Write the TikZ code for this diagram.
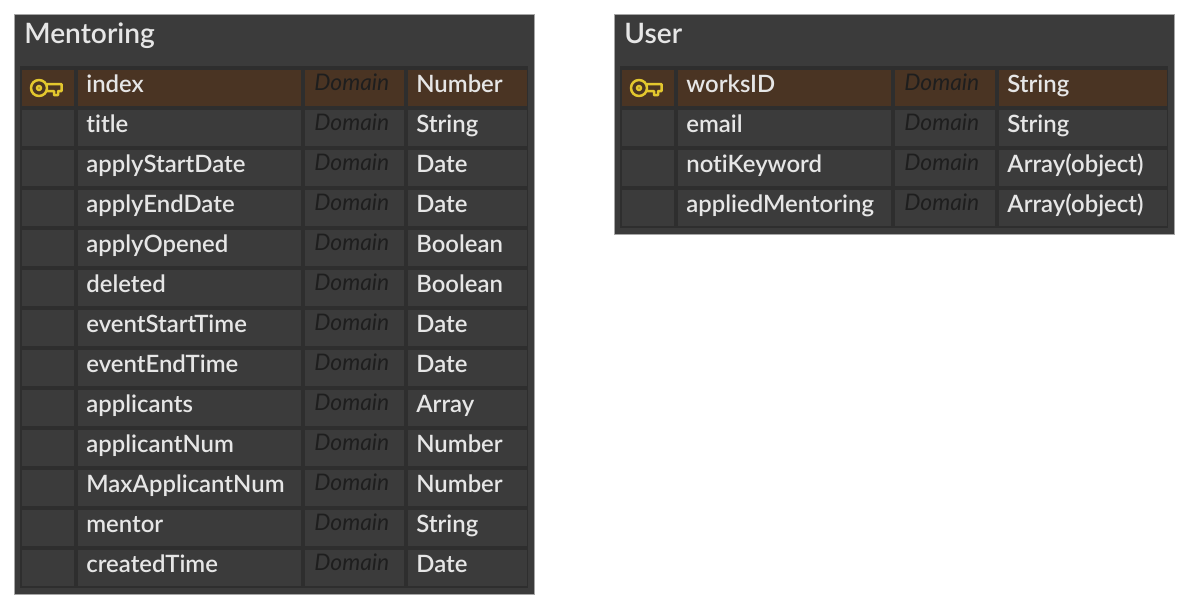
\documentclass[tikz,border=0pt]{standalone}
\usepackage{fontspec}
\setmainfont{Lato Semibold}[Ligatures=NoCommon,ItalicFont=Lato Italic]
\definecolor{panelbg}{HTML}{3B3B3B}
\definecolor{gridbg}{HTML}{2E2E2E}
\definecolor{keyrow}{HTML}{4A3423}
\definecolor{keygold}{HTML}{E3C72E}
\definecolor{fieldtxt}{HTML}{E6E6E6}
\definecolor{domaintxt}{HTML}{1E1E1E}
\tikzset{
  panel/.style={draw=black!35,line width=0.2mm,fill=panelbg,inner sep=0pt,anchor=north west},
  backing/.style={fill=gridbg,inner sep=0pt,anchor=north west},
  cell/.style={fill=panelbg,inner sep=0pt,anchor=west,minimum height=0.72cm,align=left,
    text=fieldtxt,font=\fontsize{13.6}{14}\selectfont,text height=0.24cm,text depth=0.08cm},
  domaincell/.style={cell,text=domaintxt,font=\fontsize{13}{14}\selectfont\itshape,text height=0.2cm,text depth=0.12cm},
  title/.style={text=fieldtxt,inner sep=0pt,anchor=base west,font=\fontsize{16}{17}\selectfont},
}
\newcommand{\keyicon}[1]{%
  \draw[keygold,line width=0.5mm,line join=round] (#1) circle (8)
    (#1) circle (2)
    (#1) ++(8,-4) -- ++(14.5,0) -- ++(0,7) -- ++(-3.5,0) -- ++(0,4) -- ++(-4,0) -- ++(0,-4) -- ++(-7,0);
}
\begin{document}
\begin{tikzpicture}[x=0.02cm,y=-0.02cm]
        \useasboundingbox (0,0) rectangle (1186,610);
        % Mentoring
        \node[panel,minimum width=10.4cm,minimum height=11.6cm] (mentoring) at (14,14) {};
        \node[backing,minimum width=10.16cm,minimum height=10.44cm] (mentoringgrid) at (20,66) {};
        \node[title] (mentoringtitle) at (24,43) {Mentoring};
        \foreach \fname/\ftype [count=\i from 0] in {index/Number,title/String,applyStartDate/Date,applyEndDate/Date,applyOpened/Boolean,deleted/Boolean,eventStartTime/Date,eventEndTime/Date,applicants/Array,applicantNum/Number,MaxApplicantNum/Number,mentor/String,createdTime/Date}{
            \ifnum\i=0 \def\rowfill{keyrow}\else\def\rowfill{panelbg}\fi
            \node[cell,fill=\rowfill,minimum width=1.04cm] (m\i a) at (22,88+40*\i) {};
            \node[cell,fill=\rowfill,text width=4.14cm,inner xsep=0.16cm] (m\i b) at (78,88+40*\i) {\fname};
            \node[domaincell,fill=\rowfill,text width=1.62cm,inner xsep=0.18cm] (m\i c) at (305,88+40*\i) {Domain};
            \node[cell,fill=\rowfill,text width=2.06cm,inner xsep=0.16cm] (m\i d) at (408,88+40*\i) {\ftype};
        }
        \keyicon{39,88}
        % User
        \node[panel,minimum width=11.2cm,minimum height=4.4cm] (user) at (614,14) {};
        \node[backing,minimum width=10.96cm,minimum height=3.24cm] (usergrid) at (620,66) {};
        \node[title] (usertitle) at (624,43) {User};
        \foreach \fname/\ftype [count=\i from 0] in {worksID/String,email/String,notiKeyword/Array(object),appliedMentoring/Array(object)}{
            \ifnum\i=0 \def\rowfill{keyrow}\else\def\rowfill{panelbg}\fi
            \node[cell,fill=\rowfill,minimum width=1.04cm] (u\i a) at (622,88+40*\i) {};
            \node[cell,fill=\rowfill,text width=3.94cm,inner xsep=0.16cm] (u\i b) at (678,88+40*\i) {\fname};
            \node[domaincell,fill=\rowfill,text width=1.64cm,inner xsep=0.18cm] (u\i c) at (895,88+40*\i) {Domain};
            \node[cell,fill=\rowfill,text width=3.04cm,inner xsep=0.16cm] (u\i d) at (999,88+40*\i) {\ftype};
        }
        \keyicon{639,88}
\end{tikzpicture}
\end{document}
